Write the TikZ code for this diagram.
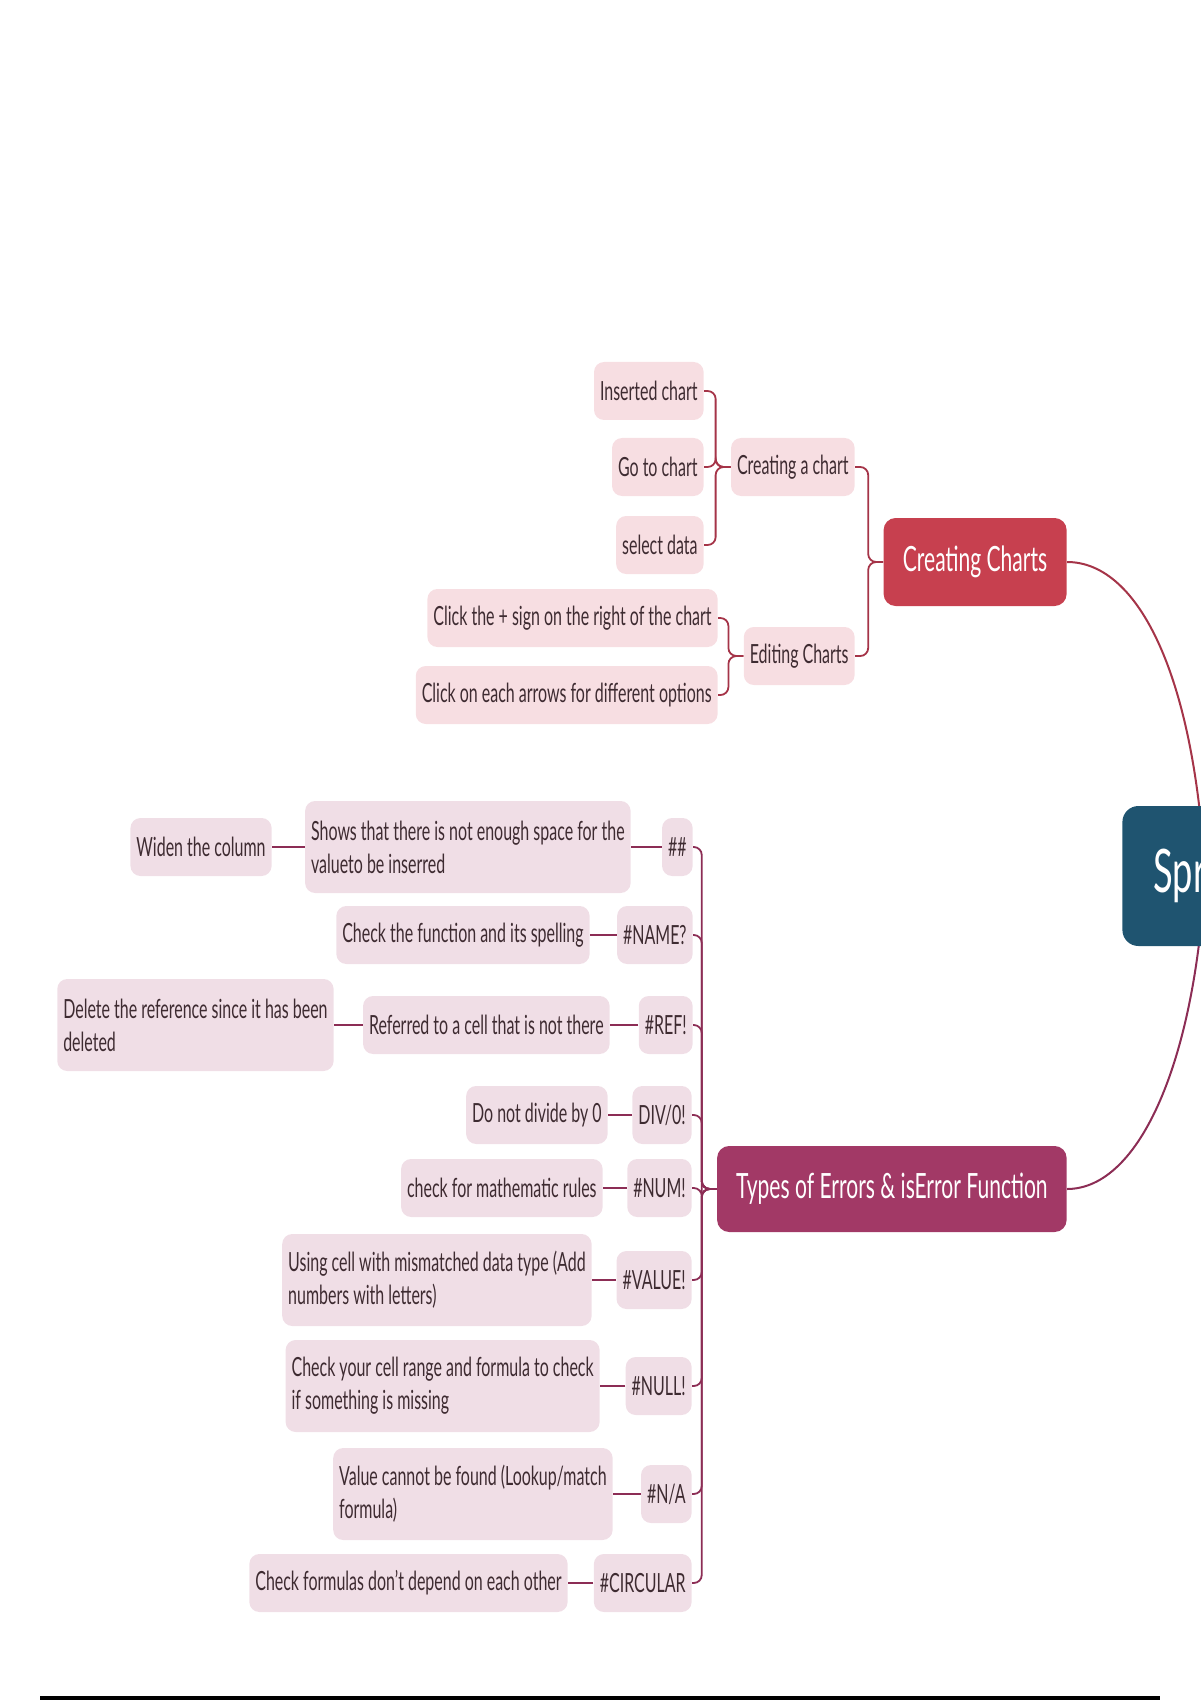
\documentclass[tikz,border=0pt]{standalone}
\usepackage{fontspec}
\setmainfont{Lato}[FakeStretch=0.605]
\usepackage{tikz}
\usetikzlibrary{positioning}
\definecolor{ChartRed}{RGB}{199,64,79}
\definecolor{ErrPlum}{RGB}{162,57,102}
\definecolor{HubTeal}{RGB}{31,84,112}
\definecolor{ChartPink}{RGB}{247,222,226}
\definecolor{ErrPink}{RGB}{240,222,230}
\definecolor{ChartLine}{RGB}{165,52,72}
\definecolor{ErrLine}{RGB}{140,45,85}
\definecolor{LeafText}{RGB}{62,43,49}
\tikzset{
    leaf/.style={rectangle, rounded corners=5pt, fill=#1, text=LeafText, align=left,
        font=\fontsize{13.2}{16.5}\selectfont, inner xsep=3pt, inner ysep=8pt, minimum height=29pt},
    chartleaf/.style={leaf=ChartPink},
    errleaf/.style={leaf=ErrPink},
    twoline/.style={minimum height=46pt},
    topic/.style={rectangle, rounded corners=6pt, fill=#1, text=white,
        font=\fontsize{17.4}{21}\selectfont, inner xsep=9.5pt, minimum height=44pt},
    chartline/.style={draw=ChartLine, line width=0.9pt},
    errline/.style={draw=ErrLine, line width=0.9pt},
    link/.style={line width=1.4pt},
    branch/.style={rounded corners=4pt, to path={-- ++(-15,0) |- (\tikztotarget)}},
}

\begin{document}
\begin{tikzpicture}[x=0.5pt, y=-0.5pt]
    \useasboundingbox (0,0) rectangle (1200,1700);

    % Creating Charts branch
    \node[chartleaf, anchor=east] (ins) at (704,391) {Inserted chart};
    \node[chartleaf, anchor=east] (goto) at (704,467) {Go to chart};
    \node[chartleaf, anchor=east] (sel) at (704,545) {select data};
    \node[chartleaf, anchor=east, minimum width=61pt] (mkchart) at (855,467) {Creating a chart};
    \node[chartleaf, anchor=east] (plus) at (718,618) {Click the + sign on the right of the chart};
    \node[chartleaf, anchor=east] (arrows) at (718,695) {Click on each arrows for different options};
    \node[chartleaf, anchor=east, minimum width=54pt] (edit) at (855,656) {Editing Charts};
    \node[topic=ChartRed, anchor=east, minimum width=91.5pt] (charts) at (1067,562) {Creating Charts};

    \foreach \c in {ins,goto,sel}
        \draw[chartline, branch] (mkchart.west) to (\c.east);
    \foreach \c in {plus,arrows}
        \draw[chartline, branch] (edit.west) to (\c.east);
    \foreach \c in {mkchart,edit}
        \draw[chartline, branch] (charts.west) to (\c.east);

    % Types of Errors branch
    \node[errleaf, anchor=east] (hash) at (693,847) {\#\#};
    \node[errleaf, twoline, anchor=east] (space) at (631,847) {Shows that there is not enough space for the\\valueto be inserred};
    \node[errleaf, anchor=east] (widen) at (272,847) {Widen the column};
    \node[errleaf, anchor=east] (name) at (693,935) {\#NAME?};
    \node[errleaf, anchor=east] (spell) at (590,935) {Check the function and its spelling};
    \node[errleaf, anchor=east] (ref) at (693,1025) {\#REF!};
    \node[errleaf, anchor=east] (refcell) at (610,1025) {Referred to a cell that is not there};
    \node[errleaf, twoline, anchor=east] (delref) at (334,1025) {Delete the reference since it has been\\deleted};
    \node[errleaf, anchor=east] (div) at (692,1115) {DIV/0!};
    \node[errleaf, anchor=east] (zero) at (608,1115) {Do not divide by 0};
    \node[errleaf, anchor=east] (num) at (692,1188) {\#NUM!};
    \node[errleaf, anchor=east] (math) at (603,1188) {check for mathematic rules};
    \node[errleaf, anchor=east] (val) at (692,1280) {\#VALUE!};
    \node[errleaf, twoline, anchor=east] (mism) at (592,1280) {Using cell with mismatched data type (Add\\numbers with letters)};
    \node[errleaf, anchor=east] (null) at (692,1386) {\#NULL!};
    \node[errleaf, twoline, anchor=east] (range) at (600,1386) {Check your cell range and formula to check\\if something is missing};
    \node[errleaf, anchor=east] (na) at (692,1494) {\#N/A};
    \node[errleaf, twoline, anchor=east] (lookup) at (613,1494) {Value cannot be found (Lookup/match\\formula)};
    \node[errleaf, anchor=east] (circ) at (692,1583) {\#CIRCULAR};
    \node[errleaf, anchor=east] (depend) at (568,1583) {Check formulas don't depend on each other};
    \node[topic=ErrPlum, anchor=east, minimum width=172.5pt, minimum height=43pt] (errors) at (1067,1189) {Types of Errors \& isError Function};

    \foreach \c in {hash,name,ref,div,num,val,null,na,circ}
        \draw[errline, branch] (errors.west) to (\c.east);
    \foreach \a/\b in {hash/space,space/widen,name/spell,ref/refcell,refcell/delref,div/zero,num/math,val/mism,null/range,na/lookup,circ/depend}
        \draw[errline, link] (\a.west) -- (\b.east);

    % central topic
    \coordinate (hub) at (1205,876);
    \draw[draw=ChartLine, line width=1pt] (charts.east) .. controls (1140,562) and (1195,680) .. (hub);
    \draw[draw=ErrLine, line width=1pt] (errors.east) .. controls (1140,1189) and (1195,1060) .. (hub);
    \node[rectangle, rounded corners=8pt, fill=HubTeal, text=white, anchor=west, align=left,
        font=\fontsize{30}{36}\selectfont, text width=60pt, inner xsep=15.5pt, minimum height=70pt] (sheet) at (1122,876) {Spr};

    \fill (40,1696) rectangle (1160,1700);
\end{tikzpicture}
\end{document}
